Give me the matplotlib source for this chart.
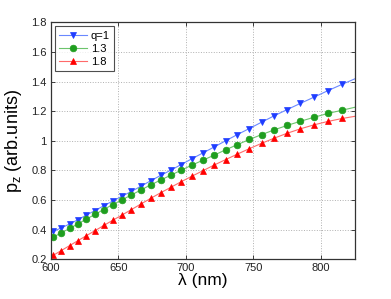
import matplotlib
matplotlib.use("Agg")
import matplotlib.pyplot as plt

plt.rcParams['font.family'] = ['Liberation Sans', 'DejaVu Sans']

# wavelength (nm), last point lies just outside the axes
wavelength = [601.9, 607.8, 613.9, 620.0, 626.3, 632.7, 639.2, 645.8, 652.6, 659.6,
              666.7, 673.9, 681.3, 688.9, 696.6, 704.5, 712.6, 720.9, 729.4, 738.1,
              747.0, 756.1, 765.4, 775.0, 784.8, 794.9, 805.2, 815.8, 826.7]

pz_q1 = [0.388, 0.412, 0.438, 0.467, 0.498, 0.529, 0.561, 0.593, 0.625, 0.658,
         0.693, 0.730, 0.766, 0.802, 0.840, 0.879, 0.918, 0.958, 1.000, 1.042,
         1.083, 1.126, 1.169, 1.211, 1.253, 1.295, 1.339, 1.382, 1.425]
pz_q13 = [0.350, 0.379, 0.408, 0.439, 0.471, 0.503, 0.536, 0.569, 0.601, 0.634,
          0.668, 0.702, 0.735, 0.768, 0.802, 0.836, 0.869, 0.903, 0.939, 0.974,
          1.009, 1.042, 1.074, 1.104, 1.132, 1.159, 1.185, 1.207, 1.230]
pz_q18 = [0.227, 0.259, 0.292, 0.325, 0.359, 0.393, 0.428, 0.463, 0.498, 0.535,
          0.573, 0.611, 0.649, 0.686, 0.724, 0.761, 0.798, 0.836, 0.873, 0.910,
          0.947, 0.983, 1.018, 1.051, 1.081, 1.108, 1.131, 1.151, 1.168]

labels = ['q=1', '1.3', '1.8']
xticks = [600, 650, 700, 750, 800]
yticks = [0.2, 0.4, 0.6, 0.8, 1.0, 1.2, 1.4, 1.6, 1.8]
ytick_labels = ['0.2', '0.4', '0.6', '0.8', '1', '1.2', '1.4', '1.6', '1.8']

fig = plt.figure(figsize=(3.91, 2.99), dpi=100)
ax = fig.add_axes([0.130, 0.133, 0.777, 0.792])

series = [
    (pz_q1, 'v', '#6a88ff', '#1f3dff'),
    (pz_q13, 'o', '#6cc46c', '#1f9e1f'),
    (pz_q18, '^', '#ff6a6a', '#ff0000'),
]
for (vals, mk, lc, mc), lab in zip(series, labels):
    ax.plot(wavelength, vals, '-', color=lc, lw=0.8, marker=mk, markersize=4.8,
            markerfacecolor=mc, markeredgecolor=mc, markeredgewidth=0.5,
            markevery=slice(0, len(wavelength) - 1), label=lab)

ax.set_xlim(600, 825)
ax.set_ylim(0.2, 1.8)
ax.set_xticks(xticks)
ax.set_yticks(yticks)
ax.set_yticklabels(ytick_labels)
ax.tick_params(direction='in', top=True, right=True, labelsize=8, length=3,
               width=0.6, pad=3, colors='#222222')
ax.grid(True, linestyle=':', color='#b0b0b0', lw=0.7)
for s in ax.spines.values():
    s.set_color('#333333')
    s.set_linewidth(0.9)

ax.set_xlabel('λ (nm)', fontsize=12.5, labelpad=0)
ax.set_ylabel(r'p$_\mathregular{z}$ (arb.units)', fontsize=13, labelpad=5)

leg = ax.legend(loc='upper left', fontsize=8, handlelength=2.5, handletextpad=0.35,
                borderpad=0.4, labelspacing=0.28, fancybox=False,
                borderaxespad=0.35)
leg.get_frame().set_edgecolor('#222222')
leg.get_frame().set_linewidth(0.8)

fig.savefig('out.png', dpi=100)
